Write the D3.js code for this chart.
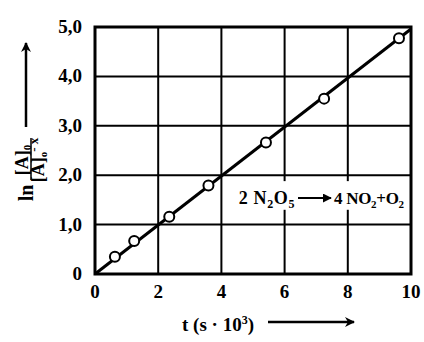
<!DOCTYPE html>
<html>
<head>
<meta charset="utf-8">
<script src="https://cdn.jsdelivr.net/npm/d3@7"></script>
<style>
  body { margin: 0; background: #fff; }
  text { font-family: "Liberation Serif", "DejaVu Serif", serif; font-weight: bold; fill: #000; }
</style>
</head>
<body>
<div id="chart"></div>
<script>
// measured values (t in s*10^3, ln([A]0/([A]0-x)))
var tValues = [0.63, 1.24, 2.35, 3.59, 5.41, 7.25, 9.62];
var lnValues = [0.35, 0.67, 1.16, 1.79, 2.66, 3.55, 4.77];
var fitLine = [[0, 0], [10, 4.96]];
var xTicks = [0, 2, 4, 6, 8, 10];
var yTicks = [0, 1, 2, 3, 4, 5];
var yTickLabels = ["0", "1,0", "2,0", "3,0", "4,0", "5,0"];

var width = 424, height = 342;
var margin = { left: 95, right: 13, top: 27, bottom: 68 };

var svg = d3.select("#chart").append("svg")
    .attr("width", width)
    .attr("height", height);

var x = d3.scaleLinear().domain([0, 10]).range([margin.left, width - margin.right]);
var y = d3.scaleLinear().domain([0, 5]).range([height - margin.bottom, margin.top]);

// grid
svg.append("g").selectAll("line")
    .data(xTicks.slice(1, -1))
    .enter().append("line")
    .attr("x1", function(d) { return x(d); })
    .attr("x2", function(d) { return x(d); })
    .attr("y1", y(0)).attr("y2", y(5))
    .attr("stroke", "#000").attr("stroke-width", 2);

svg.append("g").selectAll("line")
    .data(yTicks.slice(1, -1))
    .enter().append("line")
    .attr("y1", function(d) { return y(d); })
    .attr("y2", function(d) { return y(d); })
    .attr("x1", x(0)).attr("x2", x(10))
    .attr("stroke", "#000").attr("stroke-width", 2);

// white box behind the equation
svg.append("rect")
    .attr("x", x(4.35)).attr("y", y(1.88))
    .attr("width", x(9.9) - x(4.35)).attr("height", y(1.3) - y(1.88))
    .attr("fill", "#fff");

// fit line
var line = d3.line()
    .x(function(d) { return x(d[0]); })
    .y(function(d) { return y(d[1]); });

svg.append("path")
    .datum(fitLine)
    .attr("d", line)
    .attr("fill", "none")
    .attr("stroke", "#000")
    .attr("stroke-width", 3);

// frame
svg.append("rect")
    .attr("x", x(0)).attr("y", y(5))
    .attr("width", x(10) - x(0)).attr("height", y(0) - y(5))
    .attr("fill", "none").attr("stroke", "#000").attr("stroke-width", 3);

// points
svg.append("g").selectAll("circle")
    .data(tValues)
    .enter().append("circle")
    .attr("cx", function(d) { return x(d); })
    .attr("cy", function(d, i) { return y(lnValues[i]); })
    .attr("r", 5)
    .attr("fill", "#fff")
    .attr("stroke", "#000")
    .attr("stroke-width", 2);

// tick labels
svg.append("g").selectAll("text")
    .data(xTicks)
    .enter().append("text")
    .attr("x", function(d) { return x(d); })
    .attr("y", y(0) + 24)
    .attr("text-anchor", "middle")
    .style("font-size", "19px")
    .text(function(d) { return d; });

svg.append("g").selectAll("text")
    .data(yTicks)
    .enter().append("text")
    .attr("x", x(0) - 13)
    .attr("y", function(d) { return y(d) + 6; })
    .attr("text-anchor", "end")
    .style("font-size", "19px")
    .text(function(d, i) { return yTickLabels[i]; });

// arrow markers
var defs = svg.append("defs");
defs.append("marker")
    .attr("id", "head")
    .attr("viewBox", "0 0 10 10")
    .attr("refX", 9).attr("refY", 5)
    .attr("markerWidth", 4).attr("markerHeight", 4)
    .attr("markerUnits", "strokeWidth")
    .attr("orient", "auto")
  .append("path")
    .attr("d", "M0,0 L10,5 L0,10 L3,5 Z")
    .attr("fill", "#000");
defs.append("marker")
    .attr("id", "head2")
    .attr("viewBox", "0 0 10 10")
    .attr("refX", 9).attr("refY", 5)
    .attr("markerWidth", 4.5).attr("markerHeight", 4.5)
    .attr("markerUnits", "strokeWidth")
    .attr("orient", "auto")
  .append("path")
    .attr("d", "M0,0 L10,5 L0,10 Z")
    .attr("fill", "#000");

// x label
var xl = svg.append("text")
    .attr("x", 218).attr("y", 331)
    .attr("text-anchor", "middle")
    .style("font-size", "19px");
xl.append("tspan").text("t (s \u00b7 10");
xl.append("tspan").attr("dy", -7).style("font-size", "12px").text("3");
xl.append("tspan").attr("dy", 7).text(")");

svg.append("line")
    .attr("x1", 268).attr("x2", 354)
    .attr("y1", 322).attr("y2", 322)
    .attr("stroke", "#000").attr("stroke-width", 2.5)
    .attr("marker-end", "url(#head)");

// y label (rotated)
var yl = svg.append("g").attr("transform", "rotate(-90)");
yl.append("text")
    .attr("x", -193).attr("y", 33)
    .attr("text-anchor", "middle")
    .style("font-size", "20px")
    .text("ln");
var num = yl.append("text")
    .attr("x", -160).attr("y", 28)
    .attr("text-anchor", "middle")
    .style("font-size", "18px");
num.append("tspan").text("[A]");
num.append("tspan").attr("dy", 3).style("font-size", "11px").text("0");
yl.append("line")
    .attr("x1", -180).attr("x2", -138)
    .attr("y1", 31).attr("y2", 31)
    .attr("stroke", "#000").attr("stroke-width", 1.5);
var den = yl.append("text")
    .attr("x", -160).attr("y", 44)
    .attr("text-anchor", "middle")
    .style("font-size", "18px");
den.append("tspan").text("[A]");
den.append("tspan").attr("dy", 3).style("font-size", "11px").text("o");
den.append("tspan").attr("dy", -9).style("font-size", "13px").text("- x");

svg.append("line")
    .attr("x1", 26).attr("x2", 26)
    .attr("y1", 127).attr("y2", 43)
    .attr("stroke", "#000").attr("stroke-width", 2.5)
    .attr("marker-end", "url(#head)");

// reaction equation
var eqLeft = svg.append("text")
    .attr("x", 295).attr("y", 204)
    .attr("text-anchor", "end")
    .style("font-size", "18px")
    .style("letter-spacing", "0.6px");
eqLeft.append("tspan").text("2 N");
eqLeft.append("tspan").attr("dy", 4).style("font-size", "12px").text("2");
eqLeft.append("tspan").attr("dy", -4).text("O");
eqLeft.append("tspan").attr("dy", 4).style("font-size", "12px").text("5");

svg.append("line")
    .attr("x1", 298).attr("x2", 331)
    .attr("y1", 198).attr("y2", 198)
    .attr("stroke", "#000").attr("stroke-width", 2)
    .attr("marker-end", "url(#head2)");

var eqRight = svg.append("text")
    .attr("x", 334).attr("y", 204)
    .style("font-size", "17px")
    .style("letter-spacing", "-0.3px");
eqRight.append("tspan").text("4 NO");
eqRight.append("tspan").attr("dy", 4).style("font-size", "11px").text("2");
eqRight.append("tspan").attr("dy", -4).text("+O");
eqRight.append("tspan").attr("dy", 4).style("font-size", "11px").text("2");
</script>
</body>
</html>
